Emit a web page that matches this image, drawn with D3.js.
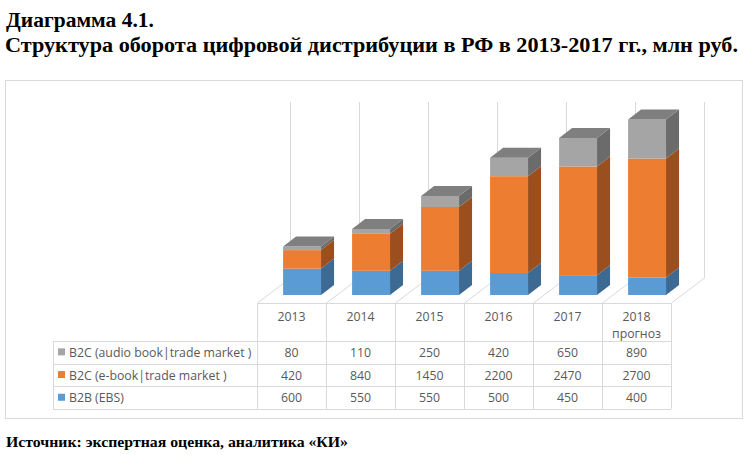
<!DOCTYPE html>
<html>
  <head>
    <meta charset="utf-8">
    <title>Диаграмма 4.1</title>
    <script src="https://cdn.jsdelivr.net/npm/d3@7"></script>
    <style>
      body { margin: 0; background: #fff; }
      svg { display: block; }
      .title { font-family: "Liberation Serif", serif; font-weight: bold; fill: #000; }
      .cell { font-family: "Open Sans", sans-serif; font-size: 12.3px; fill: #595959; }
      .grid { stroke: #d9d9d9; stroke-width: 1; fill: none; }
    </style>
  </head>

  <body>
    <svg id="chart" width="750" height="455"></svg>

    <script>
      // data
      years = ["2013", "2014", "2015", "2016", "2017", "2018"];
      yearNotes = ["", "", "", "", "", "прогноз"];
      seriesNames = ["B2B (EBS)", "B2C (e-book|trade market )", "B2C (audio book|trade market )"];
      b2b = [600, 550, 550, 500, 450, 400];
      ebook = [420, 840, 1450, 2200, 2470, 2700];
      audio = [80, 110, 250, 420, 650, 890];
      series = [b2b, ebook, audio];

      // colours: front, side, top
      colours = [
        { front: "#5b9bd5", side: "#3c6a93", top: "#4a7fae" },
        { front: "#ed7d31", side: "#9b4f1e", top: "#c0652a" },
        { front: "#a5a5a5", side: "#6b6b6b", top: "#7f7f7f" }
      ];

      svg = d3.select("#chart");

      // title
      svg.append("text").classed("title", true)
        .attr("x", 6).attr("y", 27)
        .style("font-size", "22px")
        .attr("textLength", 148).attr("lengthAdjust", "spacingAndGlyphs")
        .text("Диаграмма 4.1.");
      svg.append("text").classed("title", true)
        .attr("x", 5).attr("y", 52)
        .style("font-size", "22px")
        .attr("textLength", 733).attr("lengthAdjust", "spacingAndGlyphs")
        .text("Структура оборота цифровой дистрибуции в РФ в 2013-2017 гг., млн руб.");

      // chart frame
      svg.append("rect")
        .attr("x", 5.5).attr("y", 80.5)
        .attr("width", 737).attr("height", 338)
        .attr("fill", "none").attr("stroke", "#d9d9d9");

      // geometry
      floorY = 303;
      depth = [33, -25];
      barDepth = [13, -10];

      x = d3.scaleBand()
        .domain(years)
        .range([257, 671]);

      y = d3.scaleLinear()
        .domain([0, 4000])
        .range([0, 176]);

      bounds = d3.range(years.length + 1).map(function(i) { return 257 + i * x.step(); });

      // back wall and floor lines
      g = svg.append("g");
      bounds.forEach(function(b) {
        g.append("line").classed("grid", true)
          .attr("x1", b + depth[0] + 0.5).attr("x2", b + depth[0] + 0.5)
          .attr("y1", floorY + depth[1]).attr("y2", floorY + depth[1] - y(4000));
        g.append("line").classed("grid", true)
          .attr("x1", b + 0.5).attr("y1", floorY)
          .attr("x2", b + depth[0] + 0.5).attr("y2", floorY + depth[1]);
      });

      // bars
      stackData = years.map(function(yr, i) {
        let base = 0;
        return series.map(function(s, k) {
          let seg = { k: k, y0: base, y1: base + s[i] };
          base += s[i];
          return seg;
        });
      });

      frac = 0.32;
      bw = x.bandwidth() * 0.55;
      bars = g.selectAll(".bar")
        .data(stackData)
        .enter().append("g")
        .classed("bar", true);

      bars.each(function(segs, i) {
        let grp = d3.select(this);
        let x0 = x(years[i]) + (x.bandwidth() - bw) / 2 + depth[0] * frac;
        let x1 = x0 + bw;
        let base = floorY + depth[1] * frac;
        let dx = barDepth[0], dy = barDepth[1];
        segs.forEach(function(s) {
          let yb = base - y(s.y0), yt = base - y(s.y1);
          let c = colours[s.k];
          grp.append("rect")
            .attr("x", x0).attr("y", yt)
            .attr("width", bw).attr("height", yb - yt)
            .attr("fill", c.front);
          grp.append("path")
            .attr("d", "M" + [x1, yb] + "L" + [x1 + dx, yb + dy] + "L" + [x1 + dx, yt + dy] + "L" + [x1, yt] + "Z")
            .attr("fill", c.side);
        });
        let top = segs[segs.length - 1];
        let yt = base - y(top.y1);
        grp.append("path")
          .attr("d", "M" + [x0, yt] + "L" + [x0 + dx, yt + dy] + "L" + [x1 + dx, yt + dy] + "L" + [x1, yt] + "Z")
          .attr("fill", colours[top.k].top);
      });

      // data table
      rowTop = 341;
      rowH = 22.7;
      tableBottom = rowTop + rowH * 3;
      t = svg.append("g");
      t.append("line").classed("grid", true)
        .attr("x1", 257).attr("x2", 671).attr("y1", floorY + 0.5).attr("y2", floorY + 0.5);
      d3.range(4).forEach(function(r) {
        let yy = Math.round(rowTop + r * rowH) + 0.5;
        t.append("line").classed("grid", true)
          .attr("x1", 53).attr("x2", 671).attr("y1", yy).attr("y2", yy);
      });
      t.append("line").classed("grid", true)
        .attr("x1", 53.5).attr("x2", 53.5).attr("y1", rowTop).attr("y2", tableBottom);
      bounds.forEach(function(b) {
        t.append("line").classed("grid", true)
          .attr("x1", b + 0.5).attr("x2", b + 0.5).attr("y1", floorY).attr("y2", tableBottom);
      });

      // header
      t.selectAll(".year")
        .data(years)
        .enter().append("text").classed("cell", true)
        .attr("x", function(d) { return x(d) + x.bandwidth() / 2; })
        .attr("y", 321)
        .attr("text-anchor", "middle")
        .text(function(d) { return d; });
      t.selectAll(".note")
        .data(yearNotes)
        .enter().append("text").classed("cell", true)
        .attr("x", function(d, i) { return x(years[i]) + x.bandwidth() / 2; })
        .attr("y", 338)
        .attr("text-anchor", "middle")
        .text(function(d) { return d; });

      // rows: top row is the top series
      rowOrder = [2, 1, 0];
      rowOrder.forEach(function(k, r) {
        let cy = rowTop + r * rowH + rowH / 2 + 4.5;
        t.append("rect")
          .attr("x", 58).attr("y", cy - 8.5)
          .attr("width", 7).attr("height", 7)
          .attr("fill", colours[k].front);
        t.append("text").classed("cell", true)
          .attr("x", 69).attr("y", cy)
          .text(seriesNames[k]);
        t.selectAll(".v" + k)
          .data(series[k])
          .enter().append("text").classed("cell", true)
          .attr("x", function(d, i) { return x(years[i]) + x.bandwidth() / 2; })
          .attr("y", cy)
          .attr("text-anchor", "middle")
          .text(function(d) { return d; });
      });

      // source
      svg.append("text").classed("title", true)
        .attr("x", 6).attr("y", 447)
        .style("font-size", "15px")
        .attr("textLength", 342).attr("lengthAdjust", "spacingAndGlyphs")
        .text("Источник: экспертная оценка, аналитика «КИ»");
    </script>
  </body>
</html>
